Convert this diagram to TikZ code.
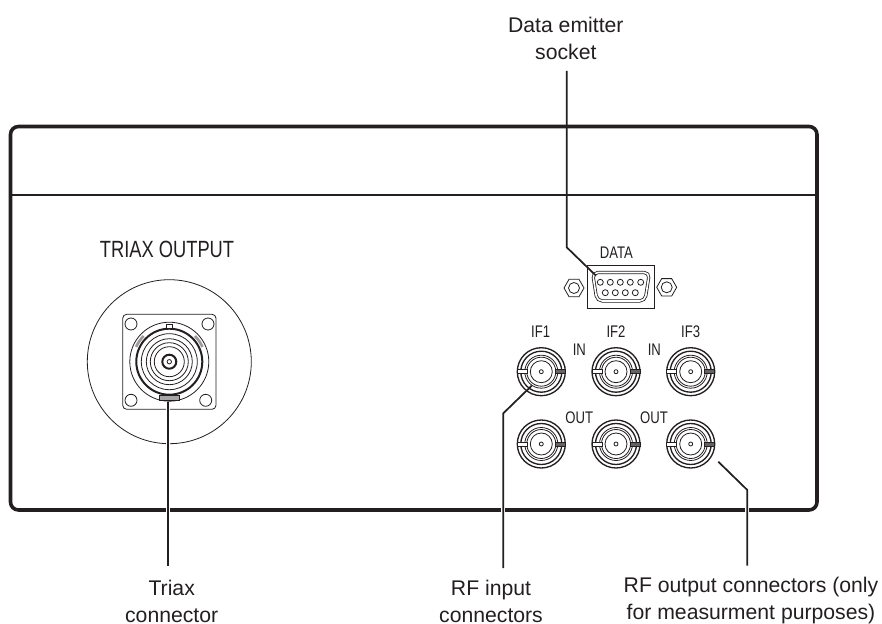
\documentclass[tikz,border=0pt]{standalone}
\usepackage{fontspec}
\usetikzlibrary{calc, shapes.geometric}
\setmainfont{Liberation Sans}
\newfontfamily\narrowfont[FakeStretch=0.78]{Liberation Sans}
\definecolor{ink}{HTML}{231F20}
\tikzset{
    leader/.style={draw=ink, line width=1.3pt},
    halo/.style={draw=white, line width=3pt},
    thinline/.style={draw=ink, line width=0.6pt},
    thickline/.style={draw=ink, line width=1pt},
    calltext/.style={align=center, inner sep=0pt, text=ink, font=\fontsize{15.9}{20.25}\selectfont},
    paneltext/.style={inner sep=0pt, text=ink, font=\narrowfont\fontsize{12.6}{14}\selectfont},
}
\newcommand*\bncsocket[2]{
    \begin{scope}[shift={(#1,#2)}]
        \draw[thickline] (0,0) circle (24);
        \draw[thickline] (0,0) circle (20.5);
        \draw[thinline] (0,0) circle (16.5);
        \draw[thinline] (0,0) circle (14.5);
        \draw[thinline] (0,0) circle (11);
        \draw[thinline] (0,0) circle (2);
        \filldraw[thinline, fill=white] (-24,-2) rectangle (-14,2);
        \filldraw[thinline, fill=ink!70] (14,-2) rectangle (24,2);
    \end{scope}
}
\begin{document}
\begin{tikzpicture}[x=0.75pt, y=-0.75pt]
        \useasboundingbox (0,0) rectangle (882,624);

        \coordinate (T) at (168.3,401.7);
        \coordinate (Tend) at (168.3,565.7);
        \coordinate (D) at (596,275.7);
        \coordinate (Dbend) at (566.7,247.3);
        \coordinate (Dend) at (566.7,71);
        \coordinate (I) at (531.7,385.7);
        \coordinate (Ibend) at (503.3,413.3);
        \coordinate (Iend) at (503.3,568);
        \coordinate (O) at (718.3,461.7);
        \coordinate (Obend) at (747.3,490);
        \coordinate (Oend) at (747.3,565.7);

        % housing
        \draw[draw=ink, line width=2.7pt, rounded corners=6pt] (10.5,126.5) rectangle (817,510);
        \draw[draw=ink, line width=1pt] (10.5,195) -- (817,195);

        % triax connector
        \draw[thinline] (169.3,361.7) circle (82);
        \draw[thinline, rounded corners=3pt] (122.7,314.3) rectangle (216,409.3);
        \foreach \x/\y in {131/324, 208/324, 131/400.3, 205.7/400.3}
            \draw[thinline] (\x,\y) circle (6);
        \begin{scope}[shift={(169.3,361.7)}]
            \draw[thinline] (0,0) circle (39.5);
            \draw[draw=ink, line width=1.5pt] (0,0) circle (33);
            \foreach \r in {28, 23, 19, 15}
                \draw[thinline] (0,0) circle (\r);
            \draw[draw=ink, line width=1.5pt] (0,0) circle (7);
            \draw[thinline] (0,0) circle (2.2);
            \filldraw[thinline, fill=white] (-3,-37) rectangle (3,-33);
            \filldraw[thinline, fill=ink!40] (-10,34) rectangle (10,39);
            \draw[draw=ink!45, line width=2pt] (204:36.3) arc[start angle=204, end angle=225, radius=36.3];
            \draw[draw=ink!45, line width=2pt] (315:36.3) arc[start angle=315, end angle=336, radius=36.3];
        \end{scope}

        % data socket
        \draw[thinline] (587.3,265.7) rectangle (654,308.7);
        \draw[thinline, double=white, double distance=1.2pt, rounded corners=4pt]
            (592.5,272.5) -- (649.5,272.5) -- (645,301) -- (597,301) -- cycle;
        \foreach \x in {600.3, 610.3, 620.3, 630.3, 640.7}
            \draw[thinline] (\x,282.3) circle (3);
        \foreach \x in {605.3, 615.3, 625.3, 635.3}
            \draw[thinline] (\x,292.7) circle (3);
        \node[regular polygon, regular polygon sides=6, draw=ink, line width=0.6pt, minimum size=15pt, inner sep=0pt] (nutL) at (574,288) {};
        \node[regular polygon, regular polygon sides=6, draw=ink, line width=0.6pt, minimum size=15pt, inner sep=0pt] (nutR) at (666.7,287.3) {};
        \draw[thinline] (nutL.center) circle (5.5);
        \draw[thinline] (nutR.center) circle (5.5);

        % rf sockets
        \foreach \x in {541.3, 616, 690.7} {
            \bncsocket{\x}{371.7}
            \bncsocket{\x}{444}
        }

        % panel lettering
        \node[paneltext, font=\narrowfont\fontsize{17.6}{19}\selectfont] (triaxname) at (167,249.5) {TRIAX OUTPUT};
        \node[paneltext] (dataname) at (616.3,252.3) {DATA};
        \node[paneltext] (ifone) at (540.7,331.7) {IF1};
        \node[paneltext] (iftwo) at (616,331.7) {IF2};
        \node[paneltext] (ifthree) at (690.7,331.7) {IF3};
        \node[paneltext] (inone) at (579.3,350) {IN};
        \node[paneltext] (intwo) at (654.3,350) {IN};
        \node[paneltext] (outone) at (579.3,417.7) {OUT};
        \node[paneltext] (outtwo) at (654,417.7) {OUT};

        % callouts
        \node[calltext] (datalabel) at (565.8,38.5) {Data emitter\\socket};
        \node[calltext] (triaxlabel) at (171.7,601) {Triax\\connector};
        \node[calltext] (inputlabel) at (491,601) {RF input\\connectors};
        \node[calltext] (outputlabel) at (751,601) {RF output connectors (only\\for measurment purposes)};

        \draw[halo] (T) -- (Tend);
        \draw[halo] (Ibend) -- (Iend);
        \draw[halo] (Obend) -- (Oend);
        \draw[leader] (T) -- (Tend);
        \draw[leader] (D) -- (Dbend) -- (Dend);
        \draw[leader] (I) -- (Ibend) -- (Iend);
        \draw[leader] (O) -- (Obend) -- (Oend);
    \end{tikzpicture}
\end{document}
